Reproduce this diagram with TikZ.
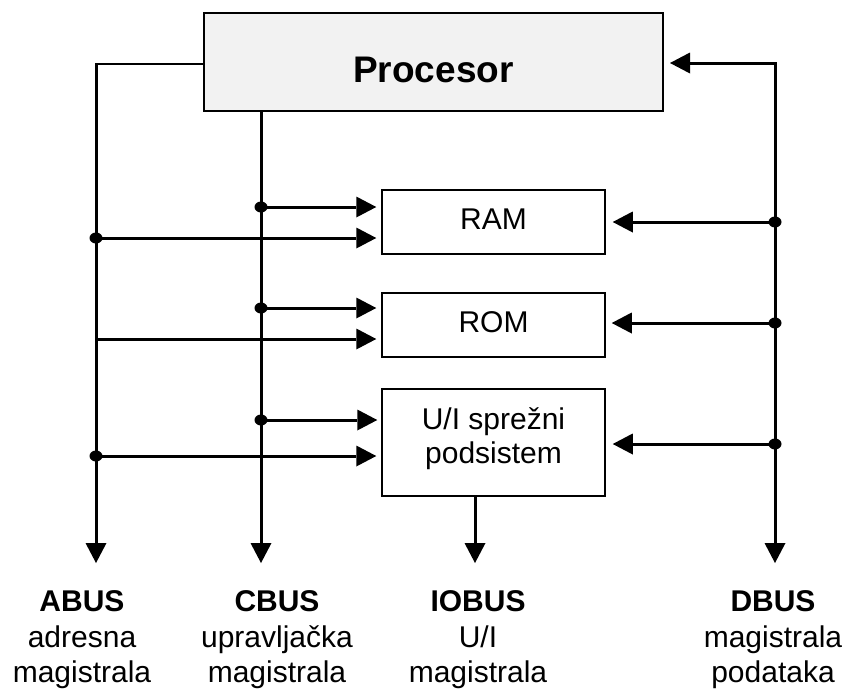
\documentclass[tikz,border=0pt]{standalone}
\usepackage{fontspec}
\setmainfont{Liberation Sans}
\usetikzlibrary{arrows.meta,shapes.geometric}
\definecolor{cpugray}{HTML}{F2F2F2}

\begin{document}
\begin{tikzpicture}[x=1pt,y=-1pt,
  bus/.style={line width=3pt},
  tap/.style={line width=2pt, line cap=rect},
  tip/.tip={Triangle[length=20pt,width=21pt,line width=0pt]},
  arr/.style={-tip},
  unit/.style={draw, line width=1.5pt, fill=white, minimum width=223pt, inner sep=0pt,
    font=\fontsize{30pt}{34pt}\selectfont, align=center},
  cpubox/.style={draw, line width=2pt, fill=cpugray, minimum width=459pt, minimum height=98pt,
    inner sep=0pt, font=\bfseries\fontsize{37pt}{44pt}\selectfont},
  junction/.style={ellipse, fill=black, inner sep=0pt, minimum width=13pt, minimum height=11pt},
  buslabel/.style={anchor=north, align=center, inner sep=0pt,
    font=\fontsize{30pt}{35.5pt}\selectfont}
]
\useasboundingbox (0,0) rectangle (848,689);

% processor and the three units
\node[cpubox, text height=40pt, text depth=0pt] (cpu) at (433.5,62) {Procesor};
\node[unit, minimum height=64pt, text height=22pt, text depth=8pt] (ram) at (493.5,222) {RAM};
\node[unit, minimum height=64pt, text height=22pt, text depth=8pt] (rom) at (493.5,325) {ROM};
\node[unit, minimum height=107pt, text height=56pt, text depth=14pt] (io) at (493.5,442.5) {U/I sprežni\\podsistem};

% bus end points
\coordinate (atop) at (96,64);
\coordinate (abot) at (96,563);
\coordinate (cbot) at (261,563);
\coordinate (iobot) at (475,563);
\coordinate (dtop) at (775,63);
\coordinate (dbot) at (775,563);

% branch points
\node[junction] (c1) at (261,207) {};
\node[junction] (a1) at (96,238) {};
\node[junction] (c2) at (261,308) {};
\coordinate (a2) at (96,339);
\node[junction] (c3) at (261,420) {};
\node[junction] (a3) at (96,456) {};
\node[junction] (d1) at (775,222) {};
\node[junction] (d2) at (775,323) {};
\node[junction] (d3) at (775,444) {};

% address bus
\draw[tap] (cpu.west |- atop) -- (atop);
\draw[bus,arr] (atop) -- (abot);
% control bus
\draw[bus,arr] (cpu.south -| cbot) -- (cbot);
% I/O bus
\draw[bus,arr] (io.south -| iobot) -- (iobot);
% data bus, both ways
\draw[bus,tip-tip,shorten <=6pt] (cpu.east |- dtop) -- (dtop) -- (dbot);

% branches to the units
\draw[bus,arr,shorten >=5pt] (c1.center) -- (ram.west |- c1);
\draw[bus,arr,shorten >=5pt] (a1.center) -- (ram.west |- a1);
\draw[bus,arr,shorten >=5pt] (c2.center) -- (rom.west |- c2);
\draw[bus,arr,shorten >=5pt] (a2) -- (rom.west |- a2);
\draw[bus,arr,shorten >=4pt] (c3.center) -- (io.west |- c3);
\draw[bus,arr,shorten >=5pt] (a3.center) -- (io.west |- a3);
\draw[bus,arr,shorten >=7pt] (d1.center) -- (ram.east |- d1);
\draw[bus,arr,shorten >=6pt] (d2.center) -- (rom.east |- d2);
\draw[bus,arr,shorten >=7pt] (d3.center) -- (io.east |- d3);

% bus names
\node[buslabel] (albl) at (82,590.5) {\textbf{ABUS}\\adresna\\magistrala};
\node[buslabel] (clbl) at (277,590.5) {\textbf{CBUS}\\upravljačka\\magistrala};
\node[buslabel] (iolbl) at (478,590.5) {\textbf{IOBUS}\\U/I\\magistrala};
\node[buslabel] (dlbl) at (773,590.5) {\textbf{DBUS}\\magistrala\\podataka};
\end{tikzpicture}
\end{document}
